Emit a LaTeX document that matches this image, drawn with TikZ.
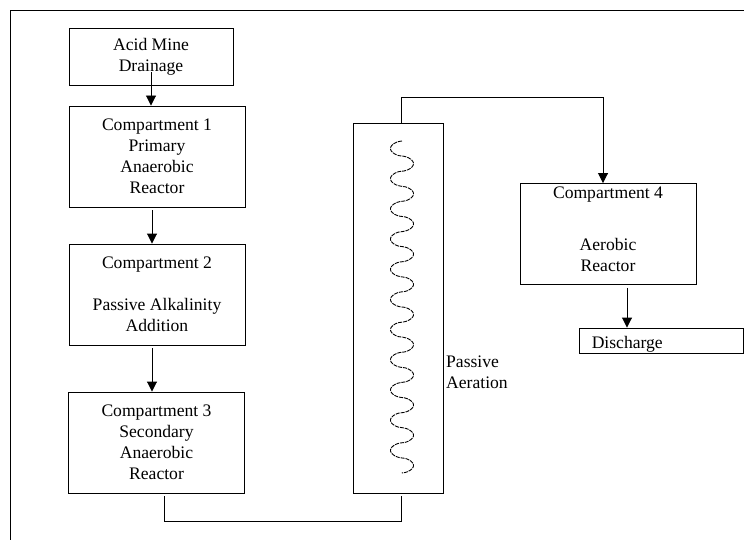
\documentclass[tikz,border=0pt]{standalone}
\usepackage{fontspec}
\setmainfont{Liberation Serif}
\usetikzlibrary{arrows.meta}
\begin{document}
\begin{tikzpicture}[x=1pt,y=-1pt,
  box/.style={draw, line width=0.9pt, inner sep=0pt, align=center,
    font=\fontsize{17.6}{21}\selectfont},
  txt/.style={inner sep=0pt, align=center, font=\fontsize{17.6}{21}\selectfont},
  arr/.style={line width=0.9pt, -{Triangle[length=10pt,width=10pt]}},
  conn/.style={line width=0.9pt},
  wave/.style={line width=0.9pt, dash pattern=on 4pt off 1pt}]
\useasboundingbox (0,0) rectangle (744,540);
% frame
\draw[line width=0.9pt] (10,540) -- (10,10.5) -- (744,10.5);
% boxes
\node[box, minimum width=164pt, minimum height=57pt] (amd) at (151,56.5) {Acid Mine\\Drainage};
\node[box, minimum width=176pt, minimum height=101pt] (c1) at (157,156.5) {Compartment 1\\Primary\\Anaerobic\\Reactor};
\node[box, minimum width=176pt, minimum height=101pt] (c2) at (157,294.5) {Compartment 2\\\mbox{}\\Passive Alkalinity\\Addition};
\node[box, minimum width=176pt, minimum height=101pt] (c3) at (156.5,442.5) {Compartment 3\\Secondary\\Anaerobic\\Reactor};
\node[box, minimum width=90pt, minimum height=370pt] (aer) at (398,308) {};
\node[box, minimum width=176pt, minimum height=101pt] (c4) at (608,234) {};
\node[txt, anchor=north] (c4t) at ([yshift=-4pt]c4.north) {Compartment 4\\[31pt]Aerobic\\Reactor};
\node[box, minimum width=164pt, minimum height=25pt] (dis) at (661,340.5) {};
\node[txt, anchor=west] (dist) at ([xshift=13pt,yshift=-4pt]dis.west) {Discharge};
\node[txt, align=left, anchor=north west] (pa) at (446,356) {Passive\\Aeration};
% wave
\draw[wave] plot[domain=0:332, samples=500, smooth]
  ({402-11.5*sin(11.928*\x)*pow(abs(sin(11.928*\x))+0.001,-0.45)}, {141+\x});
% connectors
\coordinate (ax) at (152,0);
\coordinate (bx) at (401,0);
\coordinate (cx) at (603,0);
\coordinate (dx) at (627,0);
\coordinate (c3o) at (164,496);
\coordinate (aero) at (401,496);
\coordinate (top1) at (401,97);
\coordinate (top2) at (603,97);
\coordinate (bot1) at (164,521);
\coordinate (bot2) at (401,521);
\draw[arr] ([yshift=13pt]amd.south) -- (amd.south |- c1.north);
\draw[arr] ([yshift=-3pt]c1.south -| ax) -- (c2.north -| ax);
\draw[arr] ([yshift=-3pt]c2.south -| ax) -- (c3.north -| ax);
\draw[conn] (c3o) -- (bot1) -- (bot2) -- (aero);
\draw[arr] (aer.north -| bx) -- (top1) -- (top2) -- (c4.north -| cx);
\draw[arr] ([yshift=-3pt]c4.south -| dx) -- (dis.north -| dx);
\end{tikzpicture}
\end{document}
